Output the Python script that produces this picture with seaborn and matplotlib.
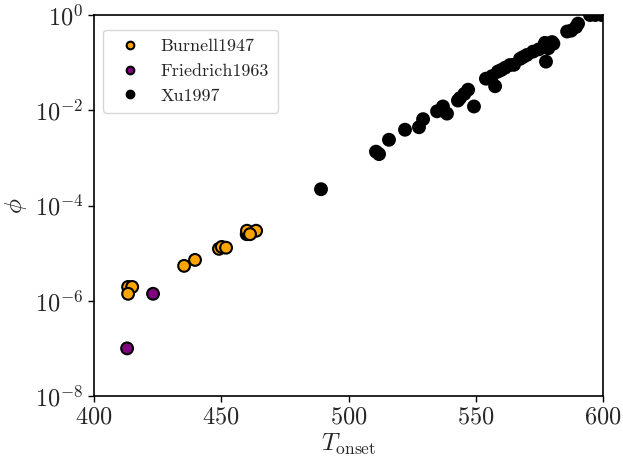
import numpy as np
import pandas as pd
import matplotlib
matplotlib.use("Agg")
import matplotlib.pyplot as plt
import seaborn as sns
from matplotlib.ticker import NullLocator

# ---- data ----
burnell_T = [413.4, 415.0, 413.4, 435.4, 439.7, 449.1, 450.2, 451.9, 460.1, 463.7, 461.3]
burnell_phi = [1.95e-6, 1.95e-6, 1.4e-6, 5.4e-6, 7.2e-6, 1.23e-5, 1.35e-5, 1.3e-5, 2.95e-5, 2.95e-5, 2.5e-5]

friedrich_T = [423.2, 413.0]
friedrich_phi = [1.4e-6, 1.0e-7]

xu_T = [460.0, 460.8, 461.5, 489.2, 510.8, 512.0, 515.9, 522.2, 527.7, 529.3,
        534.8, 537.1, 538.7, 543.0, 543.8, 545.5, 547.0, 549.3, 554.0, 555.8,
        556.4, 557.6, 558.7, 560.0, 561.5, 563.4, 565.0, 567.4, 568.5, 570.1,
        572.5, 574.8, 577.6, 577.2, 578.5, 580.0, 580.5, 585.9, 587.5, 589.4,
        590.2, 594.9, 597.0, 599.5]
xu_phi = [2.5e-5, 2.8e-5, 2.6e-5, 2.2e-4, 1.35e-3, 1.2e-3, 2.4e-3, 3.9e-3, 4.4e-3, 6.5e-3,
          9.5e-3, 1.2e-2, 8.5e-3, 1.6e-2, 1.8e-2, 2.2e-2, 2.7e-2, 1.2e-2, 4.6e-2, 4.8e-2,
          5.2e-2, 3.2e-2, 6.5e-2, 7.0e-2, 7.8e-2, 8.9e-2, 9.0e-2, 0.12, 0.13, 0.145,
          0.17, 0.19, 0.105, 0.26, 0.20, 0.27, 0.25, 0.45, 0.47, 0.56,
          0.66, 1.0, 1.0, 1.0]

series_names = ["Burnell1947", "Friedrich1963", "Xu1997"]
colors = {"Burnell1947": "#FFA500", "Friedrich1963": "#800080", "Xu1997": "#000000"}

df = pd.concat([
    pd.DataFrame({"T": xu_T, "phi": xu_phi, "src": "Xu1997"}),
    pd.DataFrame({"T": burnell_T, "phi": burnell_phi, "src": "Burnell1947"}),
    pd.DataFrame({"T": friedrich_T, "phi": friedrich_phi, "src": "Friedrich1963"}),
], ignore_index=True)

sns.set_style("ticks")
plt.rcParams["font.family"] = "serif"
plt.rcParams["font.serif"] = ["cmr10", "DejaVu Serif"]
plt.rcParams["mathtext.fontset"] = "cm"
plt.rcParams["axes.formatter.use_mathtext"] = True
plt.rcParams["axes.unicode_minus"] = False

fig = plt.figure(figsize=(6.23, 4.63), dpi=100)
ax = fig.add_axes([94/623, 1-396/463, (603-94)/623, (396-15)/463])

sns.scatterplot(data=df, x="T", y="phi", hue="src", hue_order=series_names,
                palette=colors, s=72, edgecolor="black", linewidth=1.5, ax=ax)

ax.set_yscale("log")
ax.set_xlim(400, 600)
ax.set_ylim(1e-8, 1)
ax.set_xticks([400, 450, 500, 550, 600])
ax.set_yticks([1e-8, 1e-6, 1e-4, 1e-2, 1])
ax.yaxis.set_minor_locator(NullLocator())
ax.tick_params(axis="both", labelsize=17.5, length=4, width=1, color="black")
for sp in ax.spines.values():
    sp.set_linewidth(1.2)
    sp.set_color("black")
    sp.set_visible(True)

ax.set_xlabel(r"$T_{\rm onset}$", fontsize=18, labelpad=2)
ax.set_ylabel(r"$\phi$", fontsize=18, labelpad=4)

handles, labels = ax.get_legend_handles_labels()
leg = ax.legend(handles, labels, loc="upper left", bbox_to_anchor=(0.0, 0.985),
                fontsize=13, markerscale=0.65, frameon=True, borderpad=0.5,
                handletextpad=0.7)
leg.get_frame().set_edgecolor("#cccccc")

fig.savefig("out.png", dpi=100)
